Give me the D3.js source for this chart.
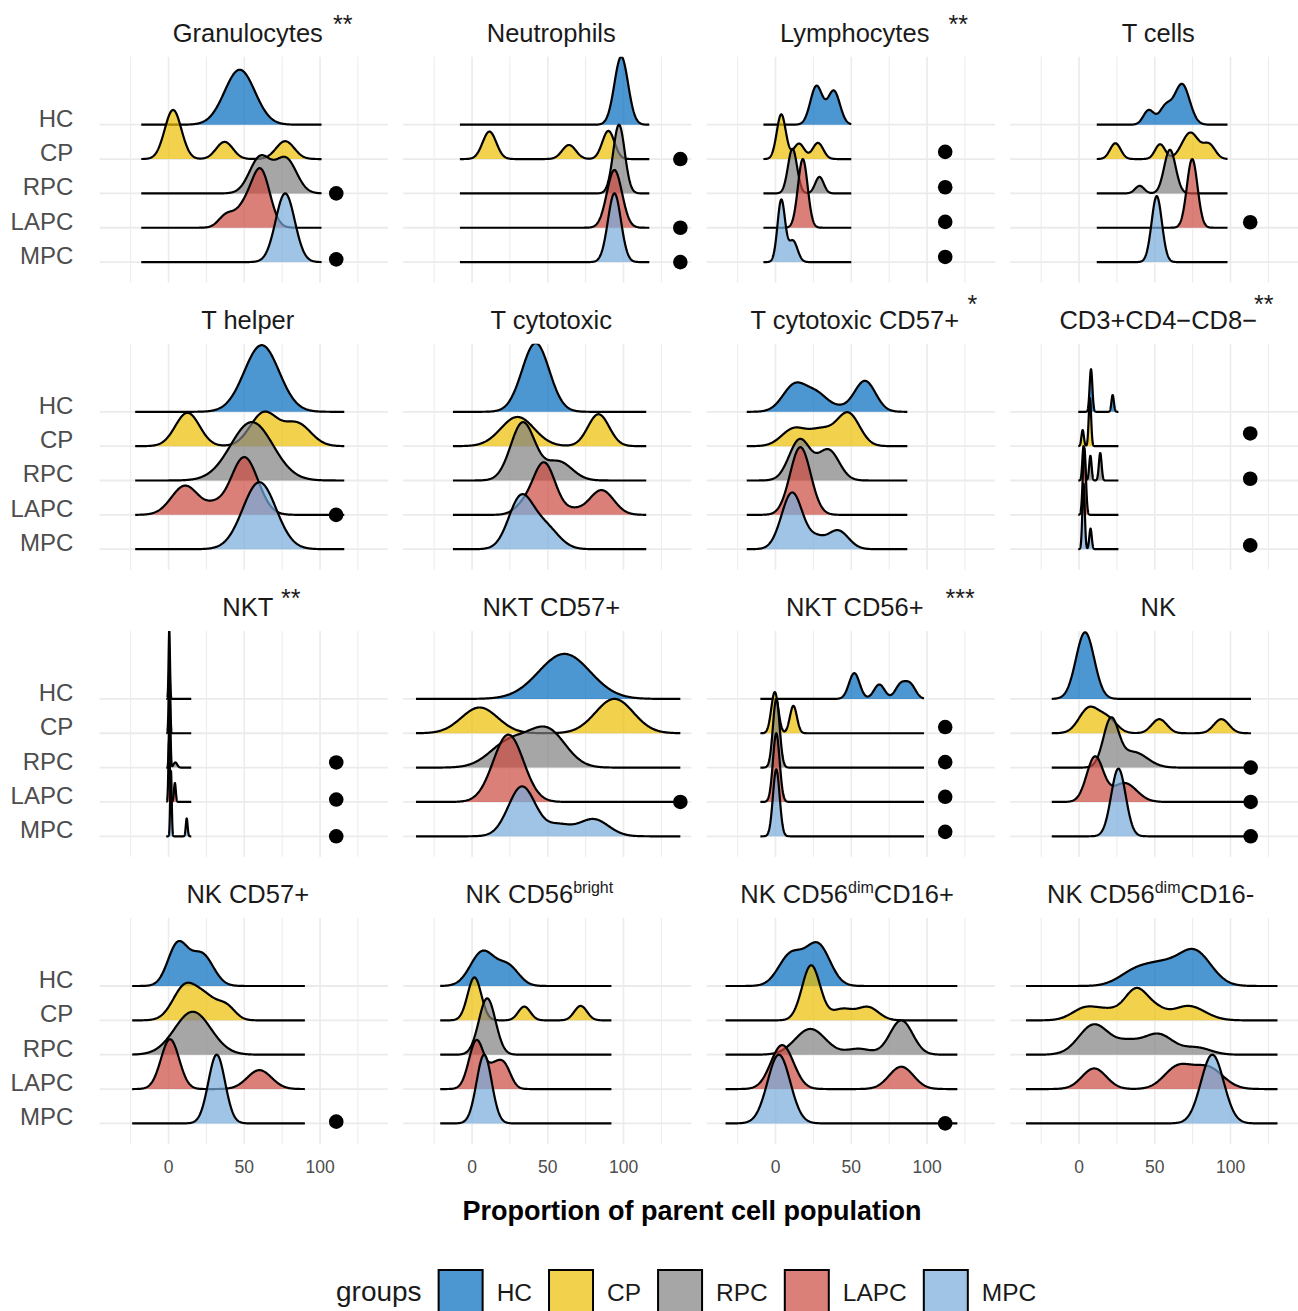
<!doctype html>
<html lang="en">
<head>
  <meta charset="utf-8">
  <title>Ridgeline densities by cell population</title>
  <script src="https://cdnjs.cloudflare.com/ajax/libs/d3/7.8.5/d3.min.js"></script>
  <style>
    body { margin: 0; background: #fff; }
    svg { font-family: "Liberation Sans", Arial, Helvetica, sans-serif; }
  </style>
</head>
<body>
<svg width="1298" height="1311" id="svg"></svg>
<script>
// groups, top ridge first
var groups = ['HC', 'CP', 'RPC', 'LAPC', 'MPC'];
var groupFills = ['#006abd', '#ecbd00', '#808080', '#ca4a3e', '#76abdb'];

var xTicks = [0, 50, 100];

// facet titles, as [text, 'sup'] pieces
var panelTitles = [
  [['Granulocytes']], [['Neutrophils']], [['Lymphocytes']], [['T cells']],
  [['T helper']], [['T cytotoxic']], [['T cytotoxic CD57+']], [['CD3+CD4\u2212CD8\u2212']],
  [['NKT']], [['NKT CD57+']], [['NKT CD56+']], [['NK']],
  [['NK CD57+']], [['NK CD56'], ['bright', 'sup']],
  [['NK CD56'], ['dim', 'sup'], ['CD16+']], [['NK CD56'], ['dim', 'sup'], ['CD16-']]
];

// x range the densities were evaluated over, per panel
var densityRanges = [
  [-18, 101], [-8, 117], [-8, 50], [11.7, 98],
  [-22, 116], [-12.6, 115], [-19, 87], [-0.5, 26],
  [-1.5, 15], [-37, 137.5], [-10, 98], [-18, 113.5],
  [-24, 90], [-21, 92], [-33, 120], [-35, 131]
];

// density peaks: [centre, spread, height in rows], one list per group
var granulocytes = [
  [[47, 10, 1.6]],
  [[3, 5.5, 1.43], [37, 5.5, 0.5], [77, 6, 0.52]],
  [[60.5, 7, 1.05], [77.5, 7, 1.0]],
  [[61, 6, 1.62], [50, 6, 0.55], [38, 5, 0.35]],
  [[77, 6.3, 2.0]]
];
var neutrophils = [
  [[98.5, 4.5, 1.98]],
  [[11.5, 4.5, 0.8], [64, 4.5, 0.41], [90, 4, 0.82]],
  [[97, 3.8, 2.0]],
  [[94, 5, 1.68]],
  [[94, 4.3, 2.0]]
];
var lymphocytes = [
  [[27, 4, 1.12], [38.5, 4, 0.98]],
  [[3.8, 3, 1.3], [15.5, 3.5, 0.45], [28, 3.5, 0.47]],
  [[11.2, 3, 1.3], [29, 2.8, 0.48]],
  [[18, 3.2, 2.0]],
  [[3.8, 2.5, 1.8], [11.5, 3, 0.62]]
];
var tCells = [
  [[68, 5, 1.18], [57, 4, 0.5], [46, 3.5, 0.42]],
  [[24, 3.5, 0.46], [53.5, 3.3, 0.43], [73.5, 5.5, 0.77], [86, 4, 0.4]],
  [[60, 3.8, 1.27], [40, 3, 0.22]],
  [[74.7, 3.5, 2.0]],
  [[51.3, 3.4, 1.92]]
];
var tHelper = [
  [[61.5, 11.5, 1.94]],
  [[12.5, 8, 0.97], [63, 9, 0.97], [85, 9, 0.65]],
  [[55, 14, 1.7]],
  [[50, 9, 1.68], [11, 9, 0.85], [30, 6, 0.2]],
  [[60, 11, 1.95]]
];
var tCytotoxic = [
  [[42, 9, 2.0]],
  [[30, 11, 0.85], [83.5, 7, 0.93]],
  [[33.5, 8, 1.68], [57, 9, 0.55]],
  [[47.5, 7.5, 1.52], [85.5, 8, 0.72], [67, 6, 0.12], [33, 6, 0.2]],
  [[32, 8, 1.45], [48, 9, 0.65]]
];
var tCytotoxicCD57 = [
  [[13, 8, 0.8], [28, 7, 0.45], [59, 7, 0.9], [42, 6, 0.1]],
  [[12, 8, 0.5], [30, 8, 0.45], [48, 7.5, 0.95]],
  [[16, 7, 1.19], [35, 7, 0.88]],
  [[16.4, 6.8, 1.97]],
  [[11, 7, 1.65], [41, 7, 0.55], [27, 5, 0.25]]
];
var cd3DoubleNeg = [
  [[7.9, 0.9, 1.24], [22.2, 0.8, 0.49]],
  [[7.2, 0.8, 1.4], [2.4, 0.8, 0.47]],
  [[3, 0.8, 1.0], [7.5, 0.8, 0.72], [14, 0.9, 0.8]],
  [[3.5, 1.0, 1.95]],
  [[3, 0.8, 1.9], [7.6, 0.8, 0.6]]
];
var nkt = [
  [[0.5, 0.45, 2.0]],
  [[0.6, 0.5, 2.0]],
  [[0.8, 0.5, 2.0], [4.5, 1.2, 0.15]],
  [[0.4, 0.5, 1.8], [4.2, 0.6, 0.55]],
  [[1.6, 0.5, 1.9], [12, 0.6, 0.52]]
];
var nktCD57 = [
  [[61, 17, 1.31]],
  [[5, 12, 0.75], [94, 12.5, 1.0]],
  [[50, 12, 1.05], [25, 13, 0.75]],
  [[24, 10, 1.96]],
  [[33, 9, 1.45], [80, 10, 0.5], [57, 8, 0.3]]
];
var nktCD56 = [
  [[52, 3.5, 0.75], [68.5, 3.5, 0.42], [82.5, 3.5, 0.4], [89, 3.5, 0.4]],
  [[-0.5, 2.3, 1.2], [11.8, 2.3, 0.8]],
  [[0.5, 2.2, 2.0]],
  [[0.5, 2.2, 2.0]],
  [[0.5, 2.2, 1.95]]
];
var nk = [
  [[4, 6, 1.94]],
  [[6.5, 6.5, 0.72], [19, 6, 0.4], [53, 5, 0.41], [94, 5, 0.41]],
  [[21, 5, 1.35], [36, 9, 0.45]],
  [[10.5, 5.5, 1.3], [30, 8, 0.55]],
  [[26, 4.8, 1.97]]
];
var nkCD57 = [
  [[6, 6.5, 1.2], [22, 7.5, 0.92]],
  [[11, 8, 1.0], [25, 7, 0.55], [38, 6, 0.4]],
  [[16, 12, 1.25]],
  [[1, 6, 1.45], [60, 8, 0.55]],
  [[31.8, 5.5, 2.0]]
];
var nkCD56bright = [
  [[7, 8, 1.0], [24, 7, 0.55]],
  [[1.6, 4.5, 1.25], [34.5, 4, 0.4], [71.7, 4.2, 0.42]],
  [[10, 5.5, 1.64]],
  [[3, 5, 1.42], [14, 4, 0.45], [21, 4.5, 0.7]],
  [[8, 5, 2.0]]
];
var nkDimCD16pos = [
  [[28, 8, 1.19], [10, 8, 0.9]],
  [[23.5, 6, 1.6], [44, 7, 0.32], [61, 7, 0.38]],
  [[23, 10, 0.75], [83, 7.5, 1.0], [55, 8, 0.17]],
  [[4.4, 7.5, 1.28], [83, 8, 0.65]],
  [[2.2, 7.5, 2.0]]
];
var nkDimCD16neg = [
  [[76, 11, 1.02], [38, 11, 0.45], [55, 10, 0.45]],
  [[38, 8, 0.92], [5, 9, 0.38], [20, 7, 0.2], [52, 6, 0.18], [72, 11, 0.42]],
  [[10, 10, 0.88], [52, 10, 0.6], [32, 8, 0.3], [78, 9, 0.2]],
  [[10, 8, 0.6], [65, 9, 0.62], [85, 10, 0.62]],
  [[88, 7.5, 2.0]]
];

var panelRidges = [
  granulocytes, neutrophils, lymphocytes, tCells,
  tHelper, tCytotoxic, tCytotoxicCD57, cd3DoubleNeg,
  nkt, nktCD57, nktCD56, nk,
  nkCD57, nkCD56bright, nkDimCD16pos, nkDimCD16neg
];

// outlier points: [panel, group, x, lift in rows]
var outliers = [
  [0, 'RPC', 110.7, 0], [0, 'MPC', 110.7, 0.08],
  [1, 'CP', 137.5, 0], [1, 'LAPC', 137.5, 0], [1, 'MPC', 137.5, 0],
  [2, 'CP', 112, 0.21], [2, 'RPC', 112, 0.18], [2, 'LAPC', 112, 0.17], [2, 'MPC', 112, 0.15],
  [3, 'LAPC', 113, 0.16],
  [4, 'LAPC', 110.6, 0],
  [7, 'CP', 113, 0.37], [7, 'RPC', 113, 0.05], [7, 'MPC', 113, 0.11],
  [8, 'RPC', 110.7, 0.15], [8, 'LAPC', 110.7, 0.07], [8, 'MPC', 110.7, 0],
  [9, 'LAPC', 137.5, 0],
  [10, 'CP', 112, 0.18], [10, 'RPC', 112, 0.16], [10, 'LAPC', 112, 0.15], [10, 'MPC', 112, 0.13],
  [11, 'RPC', 113.3, 0], [11, 'LAPC', 113.3, 0], [11, 'MPC', 113.3, 0],
  [12, 'MPC', 110.7, 0.05],
  [14, 'MPC', 112, 0]
];

// significance marks beside the facet titles: [panel, label, x]
var significance = [
  [0, '**', 108.6], [2, '**', 114.2], [6, '*', 126.7],
  [7, '**', 115.5], [8, '**', 74.3], [10, '***', 112.2]
];

// ---- layout ----
var svg = d3.select('#svg');
var left0 = 99.6, colStep = 303.5, panelW = 288.3;
var top0 = 56.7, rowStep = 287.1, panelH = 226;
var xDomain = [-45.5, 144.8];
var starRaise = [9, 16, 9, 9];
var gridCol = '#ebebeb';
var textGrey = '#4d4d4d';
var titleSize = 25.5, supSize = 16;

var defs = svg.append('defs');

panelRidges.forEach(function(ridges, p) {
  var col = p % 4, row = Math.floor(p / 4);
  var px = left0 + col * colStep, py = top0 + row * rowStep;

  var x = d3.scaleLinear().domain(xDomain).range([px, px + panelW]);
  var y = d3.scaleLinear().domain([0.4, 6.98]).range([py + panelH, py]);

  var g = svg.append('g');

  // grid
  d3.range(-25, 126, 25).forEach(function(v) {
    var major = xTicks.indexOf(v) >= 0;
    g.append('line')
      .attr('x1', x(v)).attr('x2', x(v))
      .attr('y1', py).attr('y2', py + panelH)
      .attr('stroke', gridCol)
      .attr('stroke-width', major ? 1.6 : 1.0);
  });
  groups.forEach(function(gr, i) {
    g.append('line')
      .attr('x1', px).attr('x2', px + panelW)
      .attr('y1', y(5 - i)).attr('y2', y(5 - i))
      .attr('stroke', gridCol)
      .attr('stroke-width', 1.8);
  });

  defs.append('clipPath').attr('id', 'clip' + p)
    .append('rect').attr('x', px).attr('y', py).attr('width', panelW).attr('height', panelH);

  var ridgeG = g.append('g').attr('clip-path', 'url(#clip' + p + ')');
  var range = densityRanges[p];

  ridges.forEach(function(peaks, i) {
    var level = 5 - i;
    var pts = d3.range(0, 401).map(function(k) {
      var xv = range[0] + (range[1] - range[0]) * k / 400;
      var h = d3.sum(peaks, function(pk) {
        return pk[2] * Math.exp(-0.5 * Math.pow((xv - pk[0]) / pk[1], 2));
      });
      return [xv, h];
    });

    var area = d3.area()
      .x(function(d) { return x(d[0]); })
      .y0(y(level))
      .y1(function(d) { return y(level + d[1]); });
    var line = d3.line()
      .x(function(d) { return x(d[0]); })
      .y(function(d) { return y(level + d[1]); });

    ridgeG.append('path')
      .attr('d', area(pts))
      .attr('fill', groupFills[i])
      .attr('fill-opacity', 0.7);
    ridgeG.append('path')
      .attr('d', line(pts))
      .attr('fill', 'none')
      .attr('stroke', '#000')
      .attr('stroke-width', 2.2)
      .attr('stroke-linejoin', 'round');
  });

  outliers.filter(function(o) { return o[0] === p; }).forEach(function(o) {
    var level = 5 - groups.indexOf(o[1]);
    g.append('circle')
      .attr('cx', x(o[2]))
      .attr('cy', y(level + o[3]))
      .attr('r', 7.3)
      .attr('fill', '#000');
  });

  // title; the strip centres it as if the superscript were full size
  var titleY = 41.5 + row * rowStep;
  var cx = px + panelW / 2 + 4;
  var t = svg.append('text')
    .attr('x', cx)
    .attr('y', titleY)
    .attr('text-anchor', 'middle')
    .attr('font-size', titleSize)
    .attr('fill', '#1a1a1a');
  var raised = false, supShift = 0;
  panelTitles[p].forEach(function(piece) {
    var sp = t.append('tspan').text(piece[0]);
    if (piece[1] === 'sup') {
      sp.attr('font-size', supSize).attr('dy', -10);
      supShift += sp.node().getComputedTextLength() * (titleSize / supSize - 1) / 2;
      raised = true;
    } else if (raised) {
      sp.attr('dy', 10);
      raised = false;
    }
  });
  t.attr('x', cx - supShift);

  significance.filter(function(s) { return s[0] === p; }).forEach(function(s) {
    svg.append('text')
      .attr('x', x(s[2]))
      .attr('y', titleY - starRaise[row])
      .attr('font-size', 25)
      .attr('fill', '#1a1a1a')
      .text(s[1]);
  });

  // y labels on the left column
  if (col === 0) {
    groups.forEach(function(gr, i) {
      svg.append('text')
        .attr('x', 73.3)
        .attr('y', y(5 - i) + 2)
        .attr('text-anchor', 'end')
        .attr('font-size', 24)
        .attr('fill', textGrey)
        .text(gr);
    });
  }

  // x tick labels on the bottom row
  if (row === 3) {
    xTicks.forEach(function(v) {
      svg.append('text')
        .attr('x', x(v))
        .attr('y', 1173)
        .attr('text-anchor', 'middle')
        .attr('font-size', 17.5)
        .attr('fill', textGrey)
        .text(v);
    });
  }
});

svg.append('text')
  .attr('x', 692)
  .attr('y', 1220)
  .attr('text-anchor', 'middle')
  .attr('font-size', 27)
  .attr('font-weight', 'bold')
  .attr('fill', '#000')
  .text('Proportion of parent cell population');

// legend
var legend = svg.append('g');
var lx = 336;
var lt = legend.append('text')
  .attr('x', lx).attr('y', 1301)
  .attr('font-size', 28)
  .attr('fill', '#1a1a1a')
  .text('groups');
lx += lt.node().getComputedTextLength() + 17;
groups.forEach(function(gr, i) {
  legend.append('rect')
    .attr('x', lx).attr('y', 1270)
    .attr('width', 44).attr('height', 44)
    .attr('fill', groupFills[i])
    .attr('fill-opacity', 0.7)
    .attr('stroke', '#000')
    .attr('stroke-width', 2);
  lx += 44 + 14;
  var tx = legend.append('text')
    .attr('x', lx).attr('y', 1301)
    .attr('font-size', 24.5)
    .attr('fill', '#1a1a1a')
    .text(gr);
  lx += tx.node().getComputedTextLength() + 17;
});
</script>
</body>
</html>
